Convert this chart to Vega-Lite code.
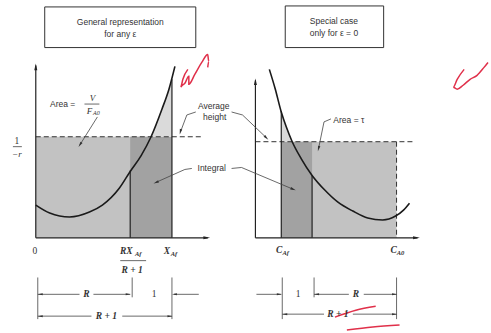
{
  "$schema": "https://vega.github.io/schema/vega-lite/v6.json",
  "width": 491,
  "height": 333,
  "padding": 0,
  "autosize": {"type": "fit", "contains": "padding"},
  "background": "white",
  "config": {"view": {"stroke": null}},
  "datasets": {
    "boxes": [{"x":45,"x2":197,"y":7,"y2":48},{"x":287,"x2":386,"y":6,"y2":48}],
    "gray": [{"x":36,"x2":173,"y":138,"y2":240},{"x":283,"x2":399,"y":143,"y2":240}],
    "dots": [{"x":131,"x2":173,"y":138,"y2":240},{"x":283,"x2":314,"y":143,"y2":240}],
    "tops": [
      {"p":"L","y":80,"x":173,"x2":173},{"p":"L","y":90,"x":170,"x2":173},{"p":"L","y":110,"x":163,"x2":173},{"p":"L","y":125,"x":157.5,"x2":173},{"p":"L","y":138,"x":152,"x2":173},
      {"p":"R","y":113,"x":283,"x2":283},{"p":"R","y":128,"x":283,"x2":288},{"p":"R","y":143,"x":283,"x2":294}
    ],
    "curves": [
      {"c":"L","x":36,"y":207},{"c":"L","x":50,"y":215},{"c":"L","x":70,"y":219},{"c":"L","x":90,"y":214},{"c":"L","x":103,"y":207},{"c":"L","x":120,"y":190},{"c":"L","x":131,"y":173},{"c":"L","x":142,"y":157},{"c":"L","x":152,"y":138},{"c":"L","x":163,"y":110},{"c":"L","x":170,"y":90},{"c":"L","x":176,"y":67},
      {"c":"R","x":271,"y":70},{"c":"R","x":277,"y":90},{"c":"R","x":283,"y":113},{"c":"R","x":288,"y":128},{"c":"R","x":294,"y":143},{"c":"R","x":303,"y":160},{"c":"R","x":314,"y":177},{"c":"R","x":327,"y":192},{"c":"R","x":340,"y":204},{"c":"R","x":355,"y":213},{"c":"R","x":370,"y":220},{"c":"R","x":385,"y":222},{"c":"R","x":398,"y":218},{"c":"R","x":406,"y":212},{"c":"R","x":412,"y":205}
    ],
    "axes": [
      {"x":36,"y":66,"x2":36,"y2":240},{"x":36,"y":240,"x2":209,"y2":240},
      {"x":257,"y":81,"x2":257,"y2":240},{"x":257,"y":240,"x2":420,"y2":240}
    ],
    "solid": [
      {"x":131,"y":172,"x2":131,"y2":240},{"x":173,"y":80,"x2":173,"y2":240},
      {"x":283,"y":112,"x2":283,"y2":240},{"x":314,"y":177,"x2":314,"y2":240}
    ],
    "thin": [
      {"x":38,"y":280,"x2":38,"y2":322},{"x":133,"y":280,"x2":133,"y2":300},{"x":173,"y":280,"x2":173,"y2":322},
      {"x":284,"y":280,"x2":284,"y2":322},{"x":316,"y":280,"x2":316,"y2":300},{"x":399,"y":280,"x2":399,"y2":322},
      {"x":38,"y":297,"x2":80,"y2":297},{"x":94,"y":297,"x2":131,"y2":297},{"x":175,"y":297,"x2":200,"y2":297},
      {"x":38,"y":319,"x2":92,"y2":319},{"x":123,"y":319,"x2":173,"y2":319},
      {"x":258,"y":297,"x2":283,"y2":297},{"x":316,"y":297,"x2":351,"y2":297},{"x":366,"y":297,"x2":399,"y2":297},
      {"x":284,"y":317,"x2":326,"y2":317},{"x":355,"y":317,"x2":399,"y2":317},
      {"x":85,"y":105,"x2":100,"y2":105},{"x":13,"y":148,"x2":22,"y2":148},{"x":121,"y":263,"x2":147,"y2":263}
    ],
    "dashed": [
      {"x":36,"y":138,"x2":205,"y2":138},{"x":257,"y":143,"x2":415,"y2":143},{"x":399,"y":143,"x2":399,"y2":240}
    ],
    "leaders": [
      {"id":"a","i":1,"x":197,"y":113},{"id":"a","i":2,"x":188,"y":116},{"id":"a","i":3,"x":182,"y":132},
      {"id":"b","i":1,"x":233,"y":113},{"id":"b","i":2,"x":244,"y":116},{"id":"b","i":3,"x":268,"y":139},
      {"id":"c","i":1,"x":98,"y":118},{"id":"c","i":2,"x":80.5,"y":146},
      {"id":"d","i":1,"x":193,"y":170},{"id":"d","i":2,"x":186,"y":171},{"id":"d","i":3,"x":157,"y":184},
      {"id":"e","i":1,"x":233,"y":170},{"id":"e","i":2,"x":243,"y":169},{"id":"e","i":3,"x":295,"y":191},
      {"id":"f","i":1,"x":333,"y":120},{"id":"f","i":2,"x":326,"y":123},{"id":"f","i":3,"x":320.5,"y":150}
    ],
    "red": [
      {"id":"l","i":1,"x":189,"y":70},{"id":"l","i":2,"x":184,"y":80},{"id":"l","i":3,"x":182,"y":88},{"id":"l","i":4,"x":186,"y":84},{"id":"l","i":5,"x":190,"y":77},{"id":"l","i":6,"x":190,"y":85},{"id":"l","i":7,"x":196,"y":75},{"id":"l","i":8,"x":203,"y":63},{"id":"l","i":9,"x":209,"y":55},{"id":"l","i":10,"x":210,"y":62},{"id":"l","i":11,"x":209,"y":68},
      {"id":"r","i":1,"x":467,"y":70},{"id":"r","i":2,"x":460,"y":80},{"id":"r","i":3,"x":456,"y":88},{"id":"r","i":4,"x":460,"y":90},{"id":"r","i":5,"x":466,"y":86},{"id":"r","i":6,"x":473,"y":80},{"id":"r","i":7,"x":480,"y":76},{"id":"r","i":8,"x":487,"y":68},{"id":"r","i":9,"x":491,"y":63},
      {"id":"u1","i":1,"x":337,"y":320},{"id":"u1","i":2,"x":358,"y":313},{"id":"u1","i":3,"x":378,"y":309},
      {"id":"u2","i":1,"x":349,"y":333},{"id":"u2","i":2,"x":375,"y":330},{"id":"u2","i":3,"x":402,"y":328}
    ],
    "arUp": [{"x":36,"y":67.5},{"x":257,"y":82.5}],
    "arRightBig": [{"x":208,"y":240},{"x":419,"y":240}],
    "arRight": [{"x":129,"y":297},{"x":171,"y":319},{"x":281,"y":297},{"x":397,"y":297},{"x":397,"y":317}],
    "arLeft": [{"x":40.5,"y":297},{"x":40.5,"y":319},{"x":175.5,"y":297},{"x":318.5,"y":297},{"x":286.5,"y":317}],
    "ar135": [{"x":268,"y":139}],
    "ar112": [{"x":295,"y":191}],
    "ar247": [{"x":157,"y":184}],
    "ar194": [{"x":181.5,"y":133},{"x":320.5,"y":150}],
    "ar213": [{"x":80.5,"y":146}],
    "sans": [
      {"t":"General representation","x":121,"y":22},{"t":"for any ε","x":121,"y":34},
      {"t":"Special case","x":336,"y":21},{"t":"only for ε = 0","x":336,"y":33},
      {"t":"Area =","x":63,"y":105},{"t":"Average","x":215,"y":107},{"t":"height","x":216,"y":118},
      {"t":"Integral","x":213,"y":170},{"t":"Area = τ","x":351,"y":121}
    ],
    "italic": [{"t":"V","x":93,"y":99},{"t":"F","x":90,"y":112},{"t":"−r","x":17,"y":155}],
    "italicSub": [{"t":"A0","x":97,"y":114}],
    "bold": [
      {"t":"RX","x":127,"y":253},{"t":"R + 1","x":133,"y":272},{"t":"X","x":168,"y":253},
      {"t":"C","x":281,"y":252},{"t":"C","x":396,"y":252},
      {"t":"R","x":87,"y":297},{"t":"R + 1","x":107,"y":319},{"t":"R","x":358,"y":297},{"t":"R + 1","x":340,"y":317}
    ],
    "boldSub": [{"t":"Af","x":139,"y":256},{"t":"Af","x":175,"y":256},{"t":"Af","x":287.5,"y":255},{"t":"A0","x":403,"y":255}],
    "plain": [{"t":"0","x":35,"y":253},{"t":"1","x":155,"y":297},{"t":"1","x":300,"y":297},{"t":"1","x":17,"y":142}]
  },
  "layer": [
    {"data":{"name":"boxes"},"mark":{"type":"rect","fill":"white","stroke":"#333","strokeWidth":1},
     "encoding":{"x":{"field":"x","type":"quantitative","scale":{"domain":[0,491],"nice":false,"zero":false},"axis":null},"x2":{"field":"x2"},
                 "y":{"field":"y","type":"quantitative","scale":{"domain":[0,333],"nice":false,"zero":false,"reverse":true},"axis":null},"y2":{"field":"y2"}}},
    {"data":{"name":"gray"},"mark":{"type":"rect","fill":"#c2c2c2"},
     "encoding":{"x":{"field":"x","type":"quantitative","axis":null},"x2":{"field":"x2"},"y":{"field":"y","type":"quantitative","axis":null},"y2":{"field":"y2"}}},
    {"data":{"name":"dots"},"mark":{"type":"rect","fill":"#a2a2a2"},
     "encoding":{"x":{"field":"x","type":"quantitative","axis":null},"x2":{"field":"x2"},"y":{"field":"y","type":"quantitative","axis":null},"y2":{"field":"y2"}}},
    {"data":{"name":"tops"},"mark":{"type":"area","orient":"horizontal","fill":"#dadada"},
     "encoding":{"y":{"field":"y","type":"quantitative","axis":null},"x":{"field":"x","type":"quantitative","axis":null},"x2":{"field":"x2"},"detail":{"field":"p"}}},
    {"data":{"name":"dashed"},"mark":{"type":"rule","stroke":"#333","strokeWidth":1,"strokeDash":[5,3]},
     "encoding":{"x":{"field":"x","type":"quantitative","axis":null},"x2":{"field":"x2"},"y":{"field":"y","type":"quantitative","axis":null},"y2":{"field":"y2"}}},
    {"data":{"name":"axes"},"mark":{"type":"rule","stroke":"#222","strokeWidth":1.2},
     "encoding":{"x":{"field":"x","type":"quantitative","axis":null},"x2":{"field":"x2"},"y":{"field":"y","type":"quantitative","axis":null},"y2":{"field":"y2"}}},
    {"data":{"name":"solid"},"mark":{"type":"rule","stroke":"#222","strokeWidth":1.2},
     "encoding":{"x":{"field":"x","type":"quantitative","axis":null},"x2":{"field":"x2"},"y":{"field":"y","type":"quantitative","axis":null},"y2":{"field":"y2"}}},
    {"data":{"name":"thin"},"mark":{"type":"rule","stroke":"#444","strokeWidth":0.8},
     "encoding":{"x":{"field":"x","type":"quantitative","axis":null},"x2":{"field":"x2"},"y":{"field":"y","type":"quantitative","axis":null},"y2":{"field":"y2"}}},
    {"data":{"name":"curves"},"mark":{"type":"line","stroke":"#1a1a1a","strokeWidth":1.6,"interpolate":"monotone"},
     "encoding":{"x":{"field":"x","type":"quantitative","axis":null},"y":{"field":"y","type":"quantitative","axis":null},"detail":{"field":"c"}}},
    {"data":{"name":"leaders"},"mark":{"type":"line","stroke":"#444","strokeWidth":0.8},
     "encoding":{"x":{"field":"x","type":"quantitative","axis":null},"y":{"field":"y","type":"quantitative","axis":null},"detail":{"field":"id"},"order":{"field":"i","type":"quantitative"}}},
    {"data":{"name":"red"},"mark":{"type":"line","stroke":"#e0304a","strokeWidth":1.5,"interpolate":"monotone"},
     "encoding":{"x":{"field":"x","type":"quantitative","axis":null},"y":{"field":"y","type":"quantitative","axis":null},"detail":{"field":"id"},"order":{"field":"i","type":"quantitative"}}},
    {"data":{"name":"arUp"},"mark":{"type":"point","shape":"M0,-1L0.45,1L-0.45,1Z","filled":true,"color":"#222","opacity":1,"size":45,"angle":0},
     "encoding":{"x":{"field":"x","type":"quantitative","axis":null},"y":{"field":"y","type":"quantitative","axis":null}}},
    {"data":{"name":"arRightBig"},"mark":{"type":"point","shape":"M0,-1L0.45,1L-0.45,1Z","filled":true,"color":"#222","opacity":1,"size":45,"angle":90},
     "encoding":{"x":{"field":"x","type":"quantitative","axis":null},"y":{"field":"y","type":"quantitative","axis":null}}},
    {"data":{"name":"arRight"},"mark":{"type":"point","shape":"M0,-1L0.4,1L-0.4,1Z","filled":true,"color":"#333","opacity":1,"size":25,"angle":90},
     "encoding":{"x":{"field":"x","type":"quantitative","axis":null},"y":{"field":"y","type":"quantitative","axis":null}}},
    {"data":{"name":"arLeft"},"mark":{"type":"point","shape":"M0,-1L0.4,1L-0.4,1Z","filled":true,"color":"#333","opacity":1,"size":25,"angle":270},
     "encoding":{"x":{"field":"x","type":"quantitative","axis":null},"y":{"field":"y","type":"quantitative","axis":null}}},
    {"data":{"name":"ar135"},"mark":{"type":"point","shape":"M0,-1L0.45,1L-0.45,1Z","filled":true,"color":"#333","opacity":1,"size":30,"angle":135},
     "encoding":{"x":{"field":"x","type":"quantitative","axis":null},"y":{"field":"y","type":"quantitative","axis":null}}},
    {"data":{"name":"ar112"},"mark":{"type":"point","shape":"M0,-1L0.45,1L-0.45,1Z","filled":true,"color":"#333","opacity":1,"size":30,"angle":112},
     "encoding":{"x":{"field":"x","type":"quantitative","axis":null},"y":{"field":"y","type":"quantitative","axis":null}}},
    {"data":{"name":"ar247"},"mark":{"type":"point","shape":"M0,-1L0.45,1L-0.45,1Z","filled":true,"color":"#333","opacity":1,"size":30,"angle":247},
     "encoding":{"x":{"field":"x","type":"quantitative","axis":null},"y":{"field":"y","type":"quantitative","axis":null}}},
    {"data":{"name":"ar194"},"mark":{"type":"point","shape":"M0,-1L0.45,1L-0.45,1Z","filled":true,"color":"#333","opacity":1,"size":30,"angle":194},
     "encoding":{"x":{"field":"x","type":"quantitative","axis":null},"y":{"field":"y","type":"quantitative","axis":null}}},
    {"data":{"name":"ar213"},"mark":{"type":"point","shape":"M0,-1L0.45,1L-0.45,1Z","filled":true,"color":"#333","opacity":1,"size":30,"angle":213},
     "encoding":{"x":{"field":"x","type":"quantitative","axis":null},"y":{"field":"y","type":"quantitative","axis":null}}},
    {"data":{"name":"sans"},"mark":{"type":"text","font":"Liberation Sans","fontSize":8.5,"color":"#333","align":"center","baseline":"middle"},
     "encoding":{"x":{"field":"x","type":"quantitative","axis":null},"y":{"field":"y","type":"quantitative","axis":null},"text":{"field":"t"}}},
    {"data":{"name":"italic"},"mark":{"type":"text","font":"Liberation Serif","fontStyle":"italic","fontSize":9,"color":"#333","align":"center","baseline":"middle"},
     "encoding":{"x":{"field":"x","type":"quantitative","axis":null},"y":{"field":"y","type":"quantitative","axis":null},"text":{"field":"t"}}},
    {"data":{"name":"italicSub"},"mark":{"type":"text","font":"Liberation Serif","fontStyle":"italic","fontSize":6,"color":"#333","align":"center","baseline":"middle"},
     "encoding":{"x":{"field":"x","type":"quantitative","axis":null},"y":{"field":"y","type":"quantitative","axis":null},"text":{"field":"t"}}},
    {"data":{"name":"bold"},"mark":{"type":"text","font":"Liberation Serif","fontStyle":"italic","fontWeight":"bold","fontSize":9.5,"color":"#333","align":"center","baseline":"middle"},
     "encoding":{"x":{"field":"x","type":"quantitative","axis":null},"y":{"field":"y","type":"quantitative","axis":null},"text":{"field":"t"}}},
    {"data":{"name":"boldSub"},"mark":{"type":"text","font":"Liberation Serif","fontStyle":"italic","fontWeight":"bold","fontSize":6.5,"color":"#333","align":"center","baseline":"middle"},
     "encoding":{"x":{"field":"x","type":"quantitative","axis":null},"y":{"field":"y","type":"quantitative","axis":null},"text":{"field":"t"}}},
    {"data":{"name":"plain"},"mark":{"type":"text","font":"Liberation Serif","fontSize":9.5,"color":"#333","align":"center","baseline":"middle"},
     "encoding":{"x":{"field":"x","type":"quantitative","axis":null},"y":{"field":"y","type":"quantitative","axis":null},"text":{"field":"t"}}}
  ]
}
